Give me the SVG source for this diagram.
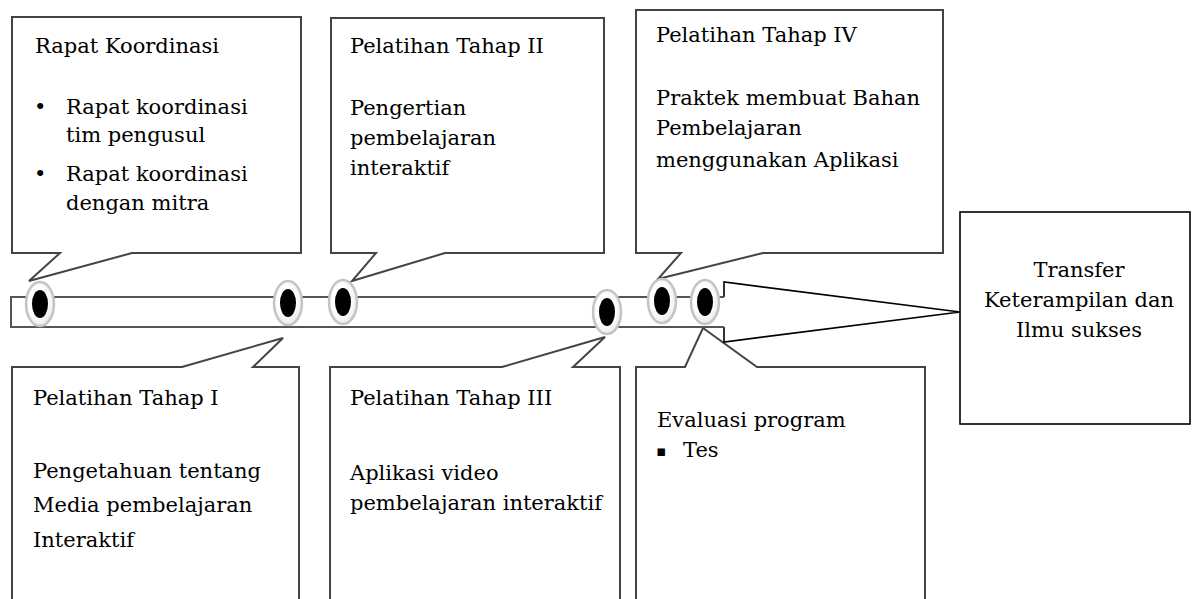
<svg xmlns="http://www.w3.org/2000/svg" width="1192" height="599" viewBox="0 0 1192 599">
<defs>
<radialGradient id="haloGrad" cx="0.45" cy="0.45" r="0.6">
<stop offset="0.55" stop-color="#ffffff"/>
<stop offset="0.85" stop-color="#eeeeee"/>
<stop offset="1" stop-color="#bdbdbd"/>
</radialGradient>
</defs>
<style>
.box{fill:#fff;stroke:#444;stroke-width:2;stroke-linejoin:miter}
.t{font-family:"DejaVu Serif","Liberation Serif",serif;font-size:21px;fill:#000}
.mid{text-anchor:middle}
.bar{fill:none;stroke:#555;stroke-width:2}
.arrow{fill:#fff;stroke:#000;stroke-width:1.6;stroke-linejoin:miter}
.halo{fill:url(#haloGrad);stroke:#c4c4c4;stroke-width:2.5}
.dot{fill:#000}
</style>
<rect width="1192" height="599" fill="#fff"/>

<g id="box-rapat">
<path class="box" d="M12,17 H301 V253 H132 L29,281 L60,253 H12 Z"/>
<text class="t" x="35" y="53">Rapat Koordinasi</text>
<text class="t" x="34" y="114">•</text>
<text class="t" x="66" y="114">Rapat koordinasi</text>
<text class="t" x="66" y="142">tim pengusul</text>
<text class="t" x="34" y="181">•</text>
<text class="t" x="66" y="181">Rapat koordinasi</text>
<text class="t" x="66" y="210">dengan mitra</text>
</g>

<g id="box-tahap2">
<path class="box" d="M331,18 H604 V253 H445 L352,281 L376,253 H331 Z"/>
<text class="t" x="350" y="53">Pelatihan Tahap II</text>
<text class="t" x="350" y="115">Pengertian</text>
<text class="t" x="350" y="145">pembelajaran</text>
<text class="t" x="350" y="175">interaktif</text>
</g>

<g id="box-tahap4">
<path class="box" d="M636,10 H943 V253 H763 L658,279 L681,253 H636 Z"/>
<text class="t" x="656" y="42">Pelatihan Tahap IV</text>
<text class="t" x="656" y="105">Praktek membuat Bahan</text>
<text class="t" x="656" y="135">Pembelajaran</text>
<text class="t" x="656" y="167">menggunakan Aplikasi</text>
</g>

<g id="box-tahap1">
<path class="box" d="M12,610 V367 H182 L283,338 L253,367 H299 V610"/>
<text class="t" x="33" y="405">Pelatihan Tahap I</text>
<text class="t" x="33" y="478">Pengetahuan tentang</text>
<text class="t" x="33" y="512">Media pembelajaran</text>
<text class="t" x="33" y="547">Interaktif</text>
</g>

<g id="box-tahap3">
<path class="box" d="M330,610 V367 H502 L605,337 L573,367 H620 V610"/>
<text class="t" x="350" y="405">Pelatihan Tahap III</text>
<text class="t" x="350" y="480">Aplikasi video</text>
<text class="t" x="350" y="510">pembelajaran interaktif</text>
</g>

<g id="box-evaluasi">
<path class="box" d="M636,610 V367 H685 L703,328 L757,367 H925 V610"/>
<text class="t" x="657" y="427">Evaluasi program</text>
<text x="656" y="456" style="font-family:'DejaVu Sans',sans-serif;font-size:15px">▪</text>
<text class="t" x="683" y="457">Tes</text>
</g>

<g id="box-transfer">
<rect x="960" y="212" width="230" height="212" fill="#fff" stroke="#000" stroke-width="1.6"/>
<text class="t mid" x="1079" y="277">Transfer</text>
<text class="t mid" x="1079" y="307">Keterampilan dan</text>
<text class="t mid" x="1079" y="337">Ilmu sukses</text>
</g>

<g id="connectors">
<path class="arrow" d="M724,297 V282 L960,312 L724,342 V327"/>
<path class="bar" d="M724,297 H11 V327 H724"/>
</g>

<g id="markers">
<g id="m1"><ellipse class="halo" cx="40" cy="304" rx="14" ry="22"/><ellipse class="dot" cx="40" cy="304" rx="8" ry="14"/></g>
<g id="m2"><ellipse class="halo" cx="288" cy="303" rx="14" ry="22"/><ellipse class="dot" cx="288" cy="303" rx="8" ry="14"/></g>
<g id="m3"><ellipse class="halo" cx="343" cy="302" rx="14" ry="22"/><ellipse class="dot" cx="343" cy="302" rx="8" ry="14"/></g>
<g id="m4"><ellipse class="halo" cx="607" cy="312" rx="14" ry="22"/><ellipse class="dot" cx="607" cy="312" rx="8" ry="14"/></g>
<g id="m5"><ellipse class="halo" cx="662" cy="301" rx="14" ry="22"/><ellipse class="dot" cx="662" cy="301" rx="8" ry="14"/></g>
<g id="m6"><ellipse class="halo" cx="705" cy="302" rx="14" ry="22"/><ellipse class="dot" cx="705" cy="302" rx="8" ry="14"/></g>
</g>
</svg>
